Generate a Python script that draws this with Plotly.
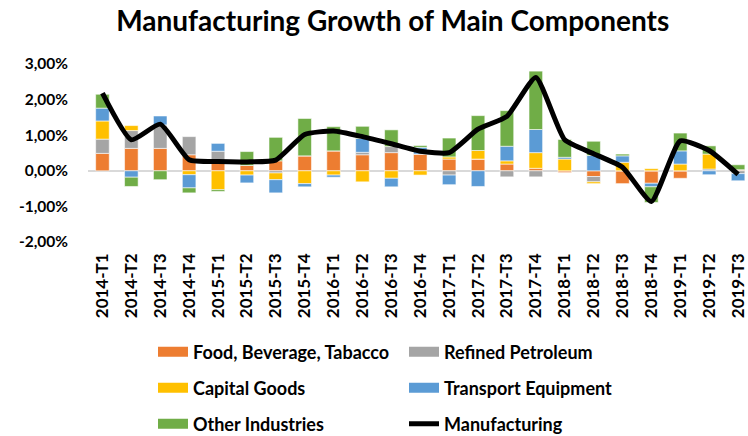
import plotly.graph_objects as go

quarters = ['2014-T1', '2014-T2', '2014-T3', '2014-T4', '2015-T1', '2015-T2', '2015-T3', '2015-T4',
            '2016-T1', '2016-T2', '2016-T3', '2016-T4', '2017-T1', '2017-T2', '2017-T3', '2017-T4',
            '2018-T1', '2018-T2', '2018-T3', '2018-T4', '2019-T1', '2019-T2', '2019-T3']

# contributions in percentage points
food = [0.49, 0.63, 0.63, 0.45, 0.27, 0.15, 0.28, 0.42, 0.56, 0.45, 0.51, 0.47,
        0.33, 0.33, 0.19, 0.07, -0.05, -0.16, -0.36, -0.35, -0.21, 0.0, 0.03]
refined = [0.40, 0.50, 0.66, 0.51, 0.28, 0.0, -0.06, 0.0, 0.0, 0.07, 0.17, 0.0,
           -0.12, 0.0, -0.17, -0.17, 0.0, -0.15, 0.0, 0.0, 0.0, 0.05, -0.08]
capital = [0.51, 0.14, 0.0, -0.11, -0.53, -0.12, -0.19, -0.36, -0.12, -0.31, -0.21, -0.12,
           0.06, 0.24, 0.09, 0.44, 0.33, -0.05, 0.24, 0.06, 0.19, 0.42, 0.0]
transport = [0.36, -0.18, 0.25, -0.37, 0.22, -0.22, -0.37, -0.09, -0.06, 0.39, -0.24, 0.19,
             -0.27, -0.44, 0.41, 0.65, 0.05, 0.43, 0.18, -0.10, 0.37, -0.11, -0.20]
other = [0.39, -0.26, -0.25, -0.14, -0.05, 0.39, 0.66, 1.05, 0.68, 0.34, 0.47, 0.05,
         0.53, 0.98, 1.00, 1.64, 0.50, 0.40, 0.05, -0.44, 0.50, 0.23, 0.14]
manufacturing = [2.18, 0.87, 1.31, 0.31, 0.26, 0.25, 0.30, 1.02, 1.12, 0.96, 0.76, 0.55,
                 0.51, 1.17, 1.53, 2.62, 0.87, 0.48, 0.10, -0.86, 0.84, 0.57, -0.10]

ytick_vals = [-2, -1, 0, 1, 2, 3]
ytick_text = ['-2,00%', '-1,00%', '0,00%', '1,00%', '2,00%', '3,00%']

series = [
    ('Food, Beverage, Tabacco', food, '#ED7D31', 'legend'),
    ('Refined Petroleum', refined, '#A5A5A5', 'legend'),
    ('Capital Goods', capital, '#FFC000', 'legend2'),
    ('Transport Equipment', transport, '#5B9BD5', 'legend2'),
    ('Other Industries', other, '#70AD47', 'legend3'),
]

FONT = 'Lato'

fig = go.Figure()
for name, vals, col, lg in series:
    fig.add_trace(go.Bar(x=quarters, y=vals, name=name, marker_color=col,
                         marker_line=dict(color='rgba(255,255,255,0.7)', width=0.8),
                         showlegend=False))
    # legend swatch as a wide stripe like the excel one
    fig.add_trace(go.Scatter(x=[None], y=[None], mode='lines', name=name,
                             line=dict(color=col, width=10), legend=lg))

fig.add_trace(go.Scatter(x=quarters, y=manufacturing, name='Manufacturing', mode='lines',
                         line=dict(color='black', width=5, shape='spline', smoothing=0.5),
                         legend='legend3'))

leg = dict(orientation='h', xref='container', yref='container', x=153 / 748, xanchor='left',
           yanchor='middle', entrywidth=206,
           font=dict(family=FONT, size=18, color='black', weight='bold'),
           bgcolor='rgba(0,0,0,0)', itemwidth=30)

fig.update_layout(
    width=748, height=436,
    margin=dict(l=88, r=0, t=64, b=194),
    barmode='relative', bargap=0.53,
    plot_bgcolor='white', paper_bgcolor='white',
    font=dict(family=FONT, color='black'),
    title=dict(text='Manufacturing Growth of Main Components', x=0.525, xanchor='center',
               y=1 - 21 / 436, yanchor='middle', xref='container', yref='container',
               font=dict(family=FONT, size=28, color='black', weight='bold')),
    legend=dict(leg, y=1 - 352 / 436),
    legend2=dict(leg, y=1 - 388 / 436),
    legend3=dict(leg, y=1 - 424 / 436),
)

fig.update_xaxes(range=[-0.5, 22.24], tickangle=-90, showgrid=False, showline=False, ticks='',
                 ticklabelstandoff=7,
                 tickfont=dict(family=FONT, size=17, color='black', weight='bold'))
fig.update_yaxes(range=[-2, 3], tickvals=ytick_vals, ticktext=ytick_text, showgrid=False,
                 zeroline=True, zerolinecolor='#D9D9D9', zerolinewidth=1.5, showline=False,
                 ticklabelstandoff=19,
                 tickfont=dict(family=FONT, size=15.5, color='black', weight='bold'))

# page has an 8px body margin by default, drop it so the figure sits at 0,0
fig.write_html("out.html", config={'displayModeBar': False},
               post_script="document.body.style.margin='0';")
